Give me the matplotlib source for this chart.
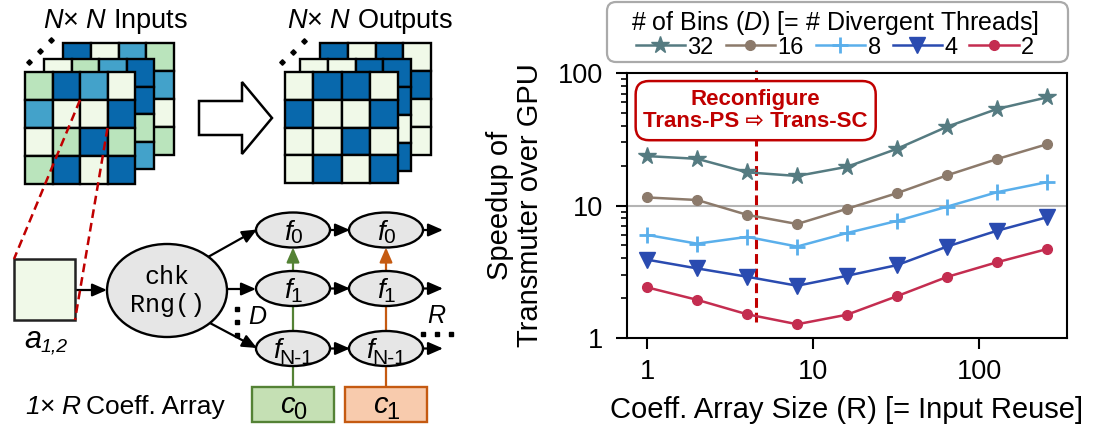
import matplotlib
matplotlib.use("Agg")
import matplotlib.pyplot as plt
from matplotlib.patches import Rectangle, Ellipse, Polygon, FancyArrowPatch, FancyBboxPatch
from matplotlib.ticker import FixedLocator, FixedFormatter, NullLocator, LogLocator, NullFormatter

plt.rcParams['font.family'] = ['Liberation Sans', 'DejaVu Sans']
plt.rcParams['mathtext.fontset'] = 'custom'
plt.rcParams['mathtext.rm'] = 'Liberation Sans'
plt.rcParams['mathtext.it'] = 'Liberation Sans:italic'
plt.rcParams['mathtext.bf'] = 'Liberation Sans:bold'

# ---------------- data ----------------
coeff_sizes = [1, 2, 4, 8, 16, 32, 64, 128, 256]
bin_labels = ['32', '16', '8', '4', '2']
speedup_32 = [23.6, 22.5, 17.8, 16.7, 19.6, 26.8, 39.3, 53.5, 65.5]
speedup_16 = [11.5, 11.0, 8.5, 7.25, 9.45, 12.4, 16.9, 22.4, 29.0]
speedup_8 = [6.0, 5.15, 5.8, 4.9, 6.2, 7.65, 9.8, 12.6, 15.0]
speedup_4 = [3.9, 3.35, 2.9, 2.48, 2.95, 3.55, 4.9, 6.45, 8.15]
speedup_2 = [2.41, 1.94, 1.51, 1.27, 1.50, 2.07, 2.89, 3.73, 4.69]
y_ticks = [1, 10, 100]
x_ticks = [1, 10, 100]
reconfig_r = 4.5
gpu_baseline = 10

series = [speedup_32, speedup_16, speedup_8, speedup_4, speedup_2]
styles = [
    dict(color='#557b81', marker='*', markersize=13),
    dict(color='#8c7a6b', marker='o', markersize=7),
    dict(color='#5aafeb', marker='+', markersize=12, markeredgewidth=2),
    dict(color='#2a4bb0', marker='v', markersize=12),
    dict(color='#c42d50', marker='o', markersize=7),
]

RED = '#c00000'

fig = plt.figure(figsize=(10.96, 4.30), dpi=100)

# ---------------- schematic (pixel-unit canvas) ----------------
ax_d = fig.add_axes([0, 0, 1, 1])
ax_d.set_xlim(0, 1096)
ax_d.set_ylim(430, 0)
ax_d.axis('off')

cell_colors = {'P': '#f0f9e8', 'L': '#bae4bc', 'M': '#43a2ca', 'D': '#0868ac'}

in_back = ['DPML', 'PPPM', 'PPPP', 'PPPL']
in_mid = ['PLMD', 'PPPD', 'PPPL', 'PPPM']
in_front = ['LDMP', 'MPPD', 'PLDL', 'LDPD']
out_back = ['DPDP', 'PPPD', 'PPPP', 'PPPP']
out_mid = ['PPDD', 'PPPD', 'PPPP', 'PPPD']
out_front = ['PDDP', 'DPPD', 'PPDP', 'PDPD']


def draw_grid(x0, y0, w, h, rows):
    cw, ch = w / 4, h / 4
    for r, row in enumerate(rows):
        for c, code in enumerate(row):
            ax_d.add_patch(Rectangle((x0 + c * cw, y0 + r * ch), cw, ch,
                                     facecolor=cell_colors[code], edgecolor='black',
                                     lw=1.7, zorder=2))


draw_grid(63, 43, 111, 112, in_back)
draw_grid(44, 59, 110, 110, in_mid)
draw_grid(25, 72, 110, 112, in_front)
draw_grid(320, 43, 111, 112, out_back)
draw_grid(300, 59, 111, 112, out_mid)
draw_grid(285, 72, 113, 111, out_front)

for dx, dy in [(29, 62), (40, 51), (51, 40)]:
    ax_d.plot(dx, dy, marker='D', color='black', markersize=2.8, zorder=3)
for dx, dy in [(282, 62), (293, 52), (304, 41)]:
    ax_d.plot(dx, dy, marker='D', color='black', markersize=2.8, zorder=3)

ax_d.text(116, 22, r'$N$× $N$ Inputs', ha='center', va='center', fontsize=19.5)
ax_d.text(370, 22, r'$N$× $N$ Outputs', ha='center', va='center', fontsize=19.5)

# big transformation arrow
ax_d.add_patch(Polygon([(199, 101), (242, 101), (242, 82), (272, 118),
                        (242, 154), (242, 135), (199, 135)],
                       closed=True, facecolor='white', edgecolor='black', lw=1.8,
                       joinstyle='miter', zorder=2))

# zoom lines from the selected element to its enlarged copy
ax_d.plot([80, 14], [100, 259], color=RED, lw=1.8, ls=(0, (3.5, 2)), zorder=5)
ax_d.plot([107.5, 75], [128, 320], color=RED, lw=1.8, ls=(0, (3.5, 2)), zorder=5)
ax_d.add_patch(Rectangle((14, 259), 61, 61, facecolor='#f0f9e8', edgecolor='#222222',
                         lw=1.8, zorder=4))


def arrow(p0, p1, color='black', lw=1.6, zorder=3):
    ax_d.add_patch(FancyArrowPatch(p0, p1,
                                   arrowstyle='-|>,head_length=0.55,head_width=0.24',
                                   mutation_scale=16, color=color, lw=lw,
                                   shrinkA=0, shrinkB=0, zorder=zorder))


renderer = fig.canvas.get_renderer()


def sub_label(cx, base_y, main, sub, main_size, sub_size, drop, sub_style='normal',
              overlap=1.0, zorder=6):
    t1 = ax_d.text(0, base_y, main, fontsize=main_size, style='italic',
                   ha='left', va='baseline', zorder=zorder)
    t2 = ax_d.text(0, base_y + drop, sub, fontsize=sub_size, style=sub_style,
                   ha='left', va='baseline', zorder=zorder)
    w1 = t1.get_window_extent(renderer).width
    w2 = t2.get_window_extent(renderer).width
    x0 = cx - (w1 + w2 - overlap) / 2
    t1.set_x(x0)
    t2.set_x(x0 + w1 - overlap)


def text_run(x, y, parts, size):
    """Left-aligned sequence of (text, style, gap_after) pieces on a common baseline."""
    for txt, st, gap in parts:
        t = ax_d.text(x, y, txt, fontsize=size, style=st, ha='left', va='baseline')
        x += t.get_window_extent(renderer).width + gap


sub_label(46, 348, 'a', '1,2', 22, 14, 3, sub_style='italic')

arrow((75, 290), (107, 290))
ax_d.add_patch(Ellipse((167, 290.5), 120, 93, facecolor='#e6e6e6', edgecolor='black',
                       lw=1.7, zorder=4))
ax_d.text(167, 291, 'chk\nRng()', family='Liberation Mono', fontsize=18,
          ha='center', va='center', linespacing=1.25, zorder=6)

col_x = [293, 386]
row_y = [230, 288.5, 348.5]
node_w, node_h = 74, 35
node_subs = ['0', '1', 'N-1']
node_drop = [3, 3, 5]

arrow((208, 257), (257, 229.5))
arrow((227, 289), (256, 289))
arrow((208, 322), (257, 348))

link_colors = ['#548235', '#c55a11']
coef_fill = ['#c5e0b4', '#f8cbad']
for j, cx in enumerate(col_x):
    arrow((cx, 387), (cx, row_y[0] + node_h / 2), color=link_colors[j], lw=1.6, zorder=3)
    for i, cy in enumerate(row_y):
        ax_d.add_patch(Ellipse((cx, cy), node_w, node_h, facecolor='#e6e6e6',
                               edgecolor='black', lw=1.7, zorder=4))
        sub_label(cx, cy + 10, 'f', node_subs[i], 20, 15, node_drop[i])
        arrow((cx + node_w / 2, cy), (cx + node_w / 2 + 20, cy))
    ax_d.add_patch(Rectangle((cx - 41, 387), 82, 35, facecolor=coef_fill[j],
                             edgecolor=link_colors[j], lw=1.7, zorder=4))
    sub_label(cx, 413, 'c', str(j), 21, 17, 6)

for yy in [309, 322, 335]:
    ax_d.plot(237, yy, marker='s', color='black', markersize=3.5, zorder=5)
for xx in [423, 437, 451]:
    ax_d.plot(xx, 334, marker='s', color='black', markersize=3.5, zorder=5)
ax_d.text(257, 317, 'D', style='italic', fontsize=18, ha='center', va='center', zorder=6)
ax_d.text(436, 316, 'R', style='italic', fontsize=18, ha='center', va='center', zorder=6)
text_run(25, 414, [('1', 'italic', 0), ('×', 'normal', 6), ('R', 'italic', 6),
                   ('Coeff. Array', 'normal', 0)], 19)

# legend frame (rounded, grey)
ax_d.add_patch(FancyBboxPatch((607, 2), 461, 60,
                              boxstyle='round,pad=0,rounding_size=9',
                              facecolor='white', edgecolor='#aaaaaa', lw=1.6, zorder=1))

# ---------------- speedup chart ----------------
ax = fig.add_axes([627 / 1096, 92 / 430, 440 / 1096, 265 / 430])
ax.set_xscale('log')
ax.set_yscale('log')

ax.axhline(gpu_baseline, color='#b4b4b4', lw=1.5, zorder=1)

handles = []
for vals, lab, st in zip(series, bin_labels, styles):
    h, = ax.plot(coeff_sizes, vals, lw=1.8, label=lab, zorder=3, clip_on=False, **st)
    handles.append(h)

ax.plot([reconfig_r, reconfig_r], [1.32, 106], color=RED, lw=2.2,
        ls=(0, (3.2, 1.6)), zorder=2, clip_on=False)
ax.text(reconfig_r, 52, 'Reconfigure\nTrans-PS ⇨ Trans-SC', color=RED,
        fontsize=16, fontweight='bold', ha='center', va='center', linespacing=1.1,
        zorder=4,
        bbox=dict(boxstyle='round,pad=0.35,rounding_size=0.6', facecolor='white',
                  edgecolor=RED, lw=1.8))

ax.set_xlim(0.755, 338)
ax.set_ylim(1, 100)
ax.xaxis.set_major_locator(FixedLocator(x_ticks))
ax.xaxis.set_major_formatter(FixedFormatter([str(v) for v in x_ticks]))
ax.xaxis.set_minor_locator(NullLocator())
ax.yaxis.set_major_locator(FixedLocator(y_ticks))
ax.yaxis.set_major_formatter(FixedFormatter([str(v) for v in y_ticks]))
ax.yaxis.set_minor_locator(LogLocator(base=10, subs=range(2, 10)))
ax.yaxis.set_minor_formatter(NullFormatter())
ax.tick_params(which='major', length=8, width=1.5, labelsize=19.5)
ax.tick_params(axis='x', which='major', pad=7)
ax.tick_params(axis='y', which='major', pad=9)
ax.tick_params(which='minor', length=4.5, width=1.2)
for sp in ax.spines.values():
    sp.set_linewidth(1.5)

ax.set_xlabel('Coeff. Array Size (R) [= Input Reuse]', fontsize=21, labelpad=8)
ax.set_ylabel('Speedup of\nTransmuter over GPU', fontsize=21, labelpad=10,
              linespacing=1.1)

leg = fig.legend(handles=handles, labels=bin_labels, loc='upper center',
                 bbox_to_anchor=(835 / 1096, 1 - 4 / 430), ncol=5,
                 title=r'# of Bins ($D$) [= # Divergent Threads]',
                 fontsize=17, title_fontsize=18, frameon=False,
                 handlelength=2.1, handletextpad=0.1, columnspacing=0.5,
                 borderpad=0.2, labelspacing=0.0, borderaxespad=0)

fig.savefig('out.png', dpi=100)
